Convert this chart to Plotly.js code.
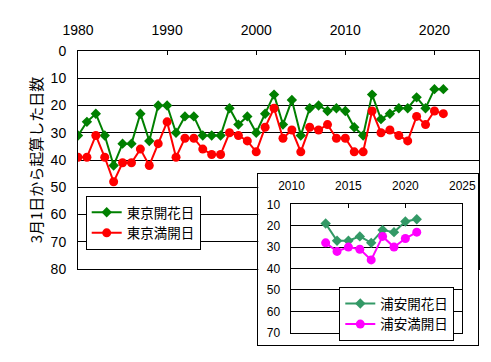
<!DOCTYPE html>
<html>
<head>
<meta charset="utf-8">
<script src="https://cdn.plot.ly/plotly-3.0.1.min.js"></script>
<style>html,body{margin:0;padding:0;background:#fff;}#chart{width:491px;height:362px;}</style>
</head>
<body>
<div id="chart"></div>
<script>
// Tokyo (1980-2021): days counted from March 1
var tokyoYears = [1980,1981,1982,1983,1984,1985,1986,1987,1988,1989,
                  1990,1991,1992,1993,1994,1995,1996,1997,1998,1999,
                  2000,2001,2002,2003,2004,2005,2006,2007,2008,2009,
                  2010,2011,2012,2013,2014,2015,2016,2017,2018,2019,
                  2020,2021];
var tokyoKaika  = [31,26,23,31,42,34,34,23,33,20,
                   20,30,24,24,31,31,31,21,27,24,
                   30,23,16,27,18,31,21,20,22,21,
                   22,28,31,16,25,23,21,21,17,21,
                   14,14];
var tokyoMankai = [39,39,31,39,48,41,41,36,42,34,
                   26,39,32,32,36,38,38,30,31,33,
                   37,28,21,32,29,37,28,29,27,32,
                   32,37,37,22,30,29,31,33,24,27,
                   22,23];
// Urayasu (2013-2021)
var urayasuYears  = [2013,2014,2015,2016,2017,2018,2019,2020,2021];
var urayasuKaika  = [19,27,27,25,28,22,23,18,17];
var urayasuMankai = [28,32,30,31,36,25,30,26,23];

var names = ['東京開花日','東京満開日','浦安開花日','浦安満開日'];
var yTitle = '3月1日から起算した日数';

var FONT = 'Arial, "Liberation Sans", "Noto Sans CJK JP", sans-serif';
var JFONT = '"Noto Sans CJK JP", sans-serif';

var traces = [
  {x: tokyoYears, y: tokyoKaika, name: names[0], xaxis:'x', yaxis:'y', mode:'lines+markers',
   line:{color:'#008000', width:2}, marker:{symbol:'diamond', size:8, color:'#008000'}, legend:'legend'},
  {x: tokyoYears, y: tokyoMankai, name: names[1], xaxis:'x', yaxis:'y', mode:'lines+markers',
   line:{color:'#FF0000', width:2}, marker:{symbol:'circle', size:9, color:'#FF0000'}, legend:'legend'},
  {x: [], y: [], xaxis:'x2', yaxis:'y2', showlegend:false, hoverinfo:'skip', mode:'markers'},
  {x: urayasuYears, y: urayasuKaika, name: names[2], xaxis:'x3', yaxis:'y3', mode:'lines+markers',
   line:{color:'#339966', width:2}, marker:{symbol:'diamond', size:8, color:'#339966'}, legend:'legend2'},
  {x: urayasuYears, y: urayasuMankai, name: names[3], xaxis:'x3', yaxis:'y3', mode:'lines+markers',
   line:{color:'#FF00FF', width:2}, marker:{symbol:'circle', size:9, color:'#FF00FF'}, legend:'legend2'}
];

var layout = {
  width: 491, height: 362,
  margin: {l:78, r:12, t:51, b:16, pad:0},
  paper_bgcolor:'#ffffff', plot_bgcolor:'#ffffff',
  font: {family: FONT, size: 14, color:'#000000'},
  showlegend: true,
  xaxis: {domain:[0,1], anchor:'y', side:'top', range:[1980,2025], tick0:1980, dtick:10,
          ticks:'inside', ticklen:4, tickcolor:'#000', showline:true, linecolor:'#000', linewidth:1,
          mirror:true, showgrid:false, zeroline:false, tickfont:{size:14, color:'#000'},
          ticklabelstandoff:9, fixedrange:true},
  yaxis: {domain:[0.261,1], anchor:'x', range:[80,0], tick0:0, dtick:10,
          showgrid:true, gridcolor:'#000', gridwidth:1, showline:true, linecolor:'#000', linewidth:1,
          mirror:true, zeroline:false, ticks:'', tickfont:{size:14, color:'#000'},
          ticklabelstandoff:8,
          title:{text:yTitle, font:{family:JFONT, size:15, color:'#000'}, standoff:4}, fixedrange:true},
  xaxis2: {domain:[0.4496,0.998], anchor:'y2', range:[0,1], showticklabels:false, ticks:'',
           showgrid:false, zeroline:false, showline:true, mirror:true, linecolor:'#000', linewidth:1, fixedrange:true},
  yaxis2: {domain:[0.002,0.583], anchor:'x2', range:[0,1], showticklabels:false, ticks:'',
           showgrid:false, zeroline:false, showline:true, mirror:true, linecolor:'#000', linewidth:1, fixedrange:true},
  xaxis3: {domain:[0.5324,0.9584], anchor:'y3', side:'top', range:[2010,2025], tick0:2010, dtick:5,
           ticks:'inside', ticklen:4, tickcolor:'#000', showline:true, linecolor:'#000', linewidth:1,
           mirror:true, showgrid:false, zeroline:false, tickfont:{size:12, color:'#000'},
           ticklabelstandoff:9, fixedrange:true},
  yaxis3: {domain:[0.0451,0.4803], anchor:'x3', range:[70,10], tick0:10, dtick:10,
           showgrid:true, gridcolor:'#000', gridwidth:1, showline:true, linecolor:'#000', linewidth:1,
           mirror:true, zeroline:false, ticks:'', tickfont:{size:12, color:'#000'},
           ticklabelstandoff:8, fixedrange:true},
  legend: {x:0.0192, y:0.5085, xanchor:'left', yanchor:'top', bgcolor:'#ffffff',
           bordercolor:'#000', borderwidth:1, font:{family:JFONT, size:13.5, color:'#000'}},
  legend2: {x:0.6516, y:0.199, xanchor:'left', yanchor:'top', bgcolor:'#ffffff',
            bordercolor:'#000', borderwidth:1, font:{family:JFONT, size:13.5, color:'#000'}}
};

Plotly.newPlot('chart', traces, layout, {staticPlot:true, displayModeBar:false});
</script>
</body>
</html>
